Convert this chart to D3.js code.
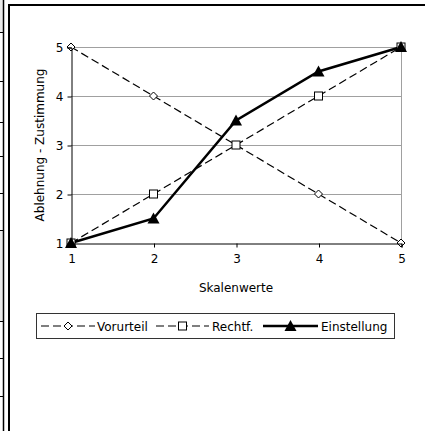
<!DOCTYPE html>
<html><head><meta charset="utf-8">
<script src="https://cdn.jsdelivr.net/npm/d3@7"></script>
<style>body{margin:0;background:#fff}svg{display:block}text{font-family:"DejaVu Sans",Verdana,sans-serif;font-size:12px;fill:#000}</style>
</head><body><svg id="c" width="425" height="431"></svg>
<script>
const xValues = [1, 2, 3, 4, 5];
const yTicks = [1, 2, 3, 4, 5];
const vorurteil = [5, 4, 3, 2, 1];
const rechtf = [1, 2, 3, 4, 5];
const einstellung = [1, 1.5, 3.5, 4.5, 5];
const seriesNames = ["Vorurteil", "Rechtf.", "Einstellung"];
const stripLines = [32, 81, 122, 156, 193, 230, 321, 358, 396];

const svg = d3.select("#c");
// left strip (table remnant)
svg.append("rect").attr("x",0).attr("y",0).attr("width",3).attr("height",32).attr("fill","#ececec");
svg.append("rect").attr("x",0).attr("y",230).attr("width",3).attr("height",91).attr("fill","#ececec");
svg.append("line").attr("x1",3.5).attr("x2",3.5).attr("y1",0).attr("y2",431).attr("stroke","#000").attr("stroke-width",1.5);
stripLines.forEach(y=>svg.append("line").attr("x1",0).attr("x2",4).attr("y1",y+0.5).attr("y2",y+0.5).attr("stroke","#000"));
// frame
svg.append("line").attr("x1",8).attr("x2",425).attr("y1",5).attr("y2",5).attr("stroke","#000").attr("stroke-width",2);
svg.append("line").attr("x1",9).attr("x2",9).attr("y1",4).attr("y2",431).attr("stroke","#000").attr("stroke-width",2);

const x = d3.scaleLinear().domain([1,5]).range([71,401]);
const y = d3.scaleLinear().domain([1,5]).range([243,47]);

const g = svg.append("g");
// gridlines
g.selectAll(".grid").data(yTicks.slice(1)).enter().append("line")
  .attr("x1",x(1)).attr("x2",x(5)).attr("y1",d=>Math.round(y(d))+0.5).attr("y2",d=>Math.round(y(d))+0.5)
  .attr("stroke","#a0a0a0");
g.append("line").attr("x1",x(5)+0.5).attr("x2",x(5)+0.5).attr("y1",y(5)).attr("y2",y(1)).attr("stroke","#a0a0a0");

// axes
const yAxis = d3.axisLeft(y).tickValues(yTicks).tickFormat(d3.format("d")).tickSize(4).tickPadding(4);
const xAxis = d3.axisBottom(x).tickValues(xValues).tickFormat(d3.format("d")).tickSize(4).tickPadding(7);
const ya = svg.append("g").attr("transform",`translate(${x(1)+0.5},0.5)`).call(yAxis);
const xa = svg.append("g").attr("transform",`translate(0.5,${y(1)+0.5})`).call(xAxis);
[ya,xa].forEach(a=>{a.select(".domain").attr("stroke","#000");a.selectAll(".tick line").attr("stroke","#000");
  a.selectAll("text").attr("font-family","DejaVu Sans, sans-serif").attr("font-size",12).attr("fill","#000");});

svg.append("text").attr("x",x(3)).attr("y",292).attr("text-anchor","middle").text("Skalenwerte");
svg.append("text").attr("transform",`translate(44,${(y(1)+y(5))/2}) rotate(-90)`).attr("text-anchor","middle").text("Ablehnung - Zustimmung");

const line = d3.line().x((d,i)=>x(xValues[i])).y(d=>y(d));
const diamond = d3.symbol().type(d3.symbolDiamond2 || d3.symbolSquare2).size(36);
function drawDiamond(sel,cx,cy){ sel.append("path").attr("d","M0,-4L4,0L0,4L-4,0Z").attr("transform",`translate(${cx},${cy})`).attr("fill","#fff").attr("stroke","#000").attr("stroke-width",1); }
function drawSquare(sel,cx,cy){ sel.append("rect").attr("x",cx-4).attr("y",cy-4).attr("width",8).attr("height",8).attr("fill","#fff").attr("stroke","#000").attr("stroke-width",1); }
function drawTri(sel,cx,cy){ sel.append("path").attr("d","M0,-6L6,5L-6,5Z").attr("transform",`translate(${cx},${cy})`).attr("fill","#000"); }

const dash = "8,4";
g.append("path").attr("d",line(vorurteil)).attr("fill","none").attr("stroke","#000").attr("stroke-width",1.2).attr("stroke-dasharray",dash);
g.append("path").attr("d",line(rechtf)).attr("fill","none").attr("stroke","#000").attr("stroke-width",1.2).attr("stroke-dasharray",dash);
g.append("path").attr("d",line(einstellung)).attr("fill","none").attr("stroke","#000").attr("stroke-width",2.5);
vorurteil.forEach((v,i)=>drawDiamond(g,x(xValues[i]),y(v)));
rechtf.forEach((v,i)=>drawSquare(g,x(xValues[i]),y(v)));
einstellung.forEach((v,i)=>drawTri(g,x(xValues[i]),y(v)));

// legend
const lg = svg.append("g");
lg.append("rect").attr("x",36.5).attr("y",313.5).attr("width",358).attr("height",25).attr("fill","#fff").attr("stroke","#333");
const items = [
  {name:seriesNames[0], x1:41, x2:95, tx:97, mk:drawDiamond, dash:dash, w:1.2},
  {name:seriesNames[1], x1:156, x2:209, tx:212, mk:drawSquare, dash:dash, w:1.2},
  {name:seriesNames[2], x1:263, x2:318, tx:321, mk:drawTri, dash:null, w:2.5}
];
items.forEach(it=>{
  const ly = 326;
  const l = lg.append("line").attr("x1",it.x1).attr("x2",it.x2).attr("y1",ly).attr("y2",ly).attr("stroke","#000").attr("stroke-width",it.w);
  if(it.dash) l.attr("stroke-dasharray",dash);
  it.mk(lg,(it.x1+it.x2)/2,ly);
  lg.append("text").attr("x",it.tx).attr("y",330.5).text(it.name);
});
</script></body></html>
